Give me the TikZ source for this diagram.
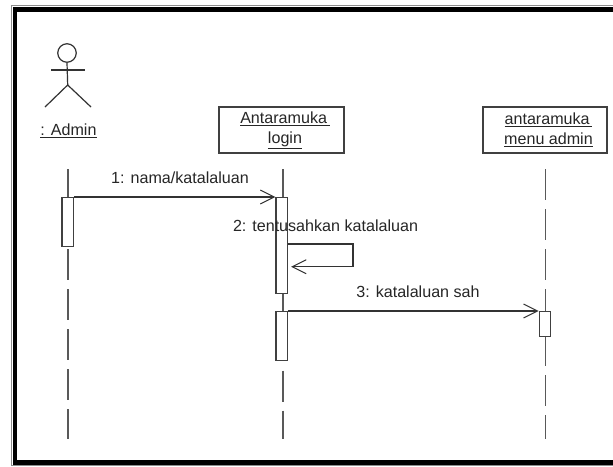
\documentclass[tikz,border=0pt]{standalone}
\usepackage{fontspec}
\setmainfont{Liberation Sans}
\usetikzlibrary{arrows.meta}
\tikzset{
  lbl/.style={font=\fontsize{16.1}{20}\selectfont,text=black!85,inner sep=0pt},
  objbox/.style={draw=black!75,line width=1.2pt,fill=white,minimum width=125pt,minimum height=46pt,inner sep=0pt,align=center,font=\fontsize{16.1}{20}\selectfont,text=black!85},
  bar/.style={draw=black!75,line width=1.2pt,fill=white,minimum width=11.5pt,inner sep=0pt},
  life/.style={draw=black!65,line width=1.2pt},
  dashlife/.style={life,dash pattern=on 31pt off 9pt},
  msg/.style={draw=black!80,line width=1.2pt,-{Straight Barb[length=14pt,width=14pt,line width=1pt]}},
  stick/.style={draw=black!80,line width=1.2pt}
}
\begin{document}
\begin{tikzpicture}[x=1pt,y=-1pt]
\useasboundingbox (0,0) rectangle (613,466);
\fill[white] (0,0) rectangle (613,466);
% frame (open on the right, as cropped)
\draw[black!45,line width=1pt] (613,5.5) -- (11,5.5) -- (11,465.5) -- (613,465.5);
\draw[black,line width=4.5pt] (613,9.7) -- (15.2,9.7) -- (15.2,462.5) -- (613,462.5);
% actor
\node[circle,draw=black!80,line width=1.2pt,minimum size=18.5pt,inner sep=0pt] (head) at (67,53) {};
\coordinate (hip) at (67.7,85);
\coordinate (armL) at (51,70);
\coordinate (armR) at (85,70);
\coordinate (legL) at (45,107);
\coordinate (legR) at (91,107);
\draw[stick] (head.south) -- (hip);
\draw[stick] (armL) -- (armR);
\draw[stick] (legL) -- (hip) -- (legR);
\node[lbl] (admin) at (68.5,131) {\underline{: Admin}};
% objects
\node[objbox] (login) at (281.5,130) {\hspace*{7pt}\underline{Antaramuka\,}\\\hspace*{7pt}\underline{login}};
\node[objbox,minimum width=124pt] (menu) at (545,130) {\hspace*{7pt}\underline{antaramuka\,}\\\hspace*{7pt}\underline{menu admin}};
% lifelines
\coordinate (a0) at (68,169); \coordinate (a1) at (68,439);
\coordinate (b0) at (283,169); \coordinate (b1) at (283,439);
\coordinate (c0) at (545.6,169); \coordinate (c1) at (545.6,439);
\draw[life] (a0) -- (68,197);
\draw[dashlife] (68,249) -- (a1);
\draw[life] (b0) -- (283,197);
\draw[life] (283,293) -- (283,311);
\draw[dashlife] (283,370.7) -- (b1);
\draw[dashlife] (c0) -- (545.6,311);
\draw[dashlife] (545.6,335) -- (c1);
% activations
\node[bar,anchor=north,minimum height=49pt] (ba) at (67.7,197) {};
\node[bar,anchor=north,minimum height=96pt] (bb) at (281.8,197) {};
\node[bar,anchor=north,minimum height=49pt] (bc) at (281.8,311) {};
\node[bar,anchor=north,minimum height=24.5pt] (bd) at (545,311) {};
% messages
\draw[msg] (ba.north east |- 0,197) -- (bb.north west |- 0,197);
\coordinate (s1) at (353,244); \coordinate (s2) at (353,266.7);
\draw[msg] (bb.east |- 0,244) -- (s1) -- (s2) -- ([xshift=3pt]bb.east |- 0,266.7);
\draw[msg] (bc.north east |- 0,311) -- (bd.north west |- 0,311);
% labels
\node[lbl] (m1) at (180,178) {1: nama/katalaluan};
\node[lbl] (m2) at (325.5,226) {2: tentusahkan katalaluan};
\node[lbl] (m3) at (418,292) {3: katalaluan sah};
\end{tikzpicture}
\end{document}
